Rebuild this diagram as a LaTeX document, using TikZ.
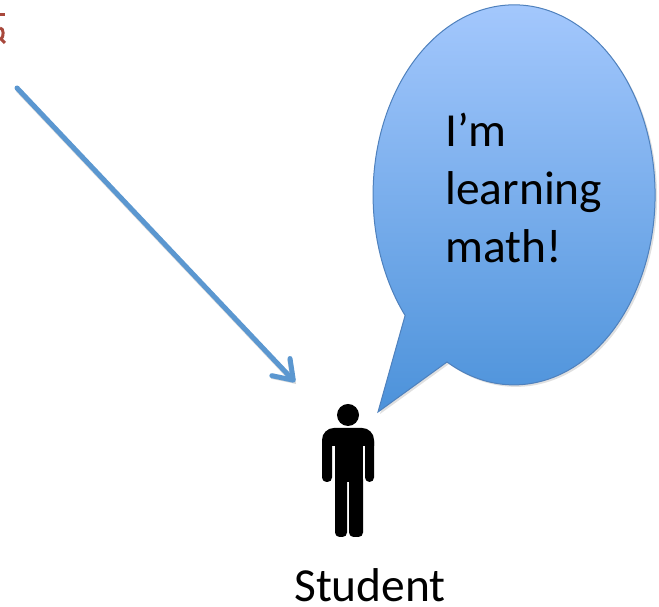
\documentclass[tikz,border=0pt]{standalone}
\usepackage{fontspec}
\setmainfont{Carlito}
\usepackage{xcolor}
\usetikzlibrary{arrows.meta}
\definecolor{bubbletop}{HTML}{A9CBFF}
\definecolor{bubblebot}{HTML}{4C92DA}
\definecolor{bubbleline}{HTML}{4F81BD}
\definecolor{arrowblue}{HTML}{5B97D0}
\definecolor{fragred}{HTML}{A8483C}

\begin{document}
\begin{tikzpicture}[x=0.02cm,y=0.02cm]
% Define styles
\tikzstyle{label} = [inner sep=0pt, text=black, font=\fontsize{27}{33}\selectfont]
\tikzstyle{person} = [fill=black]
\tikzstyle{limb} = [fill=black, rounded corners=0.09cm]
\useasboundingbox (0,0) rectangle (659,607);

% Cut-off mark at the left edge
\draw[fragred, line width=0.06cm] (0,592) -- (5,592);
\draw[fragred, line width=0.06cm] (0,579) .. controls (4,579) and (4,570) .. (1,568) -- (5,564);

% Speech bubble
\fill[black, opacity=0.12] (449,243) arc[start angle=241.6, end angle=579.4, x radius=141, y radius=190] -- (380,193) -- cycle;
\shade[top color=bubbletop, bottom color=bubblebot, draw=bubbleline, line width=0.02cm]
  (447,245) arc[start angle=241.6, end angle=579.4, x radius=141, y radius=190] -- (378,195) -- cycle;

% Define nodes
\coordinate (arrow_start) at (17,519);
\coordinate (arrow_end) at (295,225);
\node[label, anchor=north west, align=left] (bubble_text) at (445,494) {I’m\\learning\\math!};
\node[label] (student) at (370,22) {Student};

% Connect
\draw[black, opacity=0.15, line width=0.1cm, -{Straight Barb[length=3.6mm, width=5mm]}] ([shift={(1,-2)}]arrow_start) -- ([shift={(1,-2)}]arrow_end);
\draw[arrowblue, line width=0.1cm, line cap=round, -{Straight Barb[length=3.6mm, width=5mm, round]}] (arrow_start) -- (arrow_end);

% Student figure
\fill[person] (348,192) circle (11);
\fill[person] (322,161) [rounded corners=0.24cm] -- (322,179) -- (374,179) [sharp corners] -- (374,161) -- cycle;
\fill[person] (335,125) rectangle (363,179);
\fill[limb] (322,125) rectangle (332,170);
\fill[limb] (365,125) rectangle (374,170);
\fill[limb] (335,70) rectangle (347,132);
\fill[limb] (349,70) rectangle (363,132);
\end{tikzpicture}
\end{document}
